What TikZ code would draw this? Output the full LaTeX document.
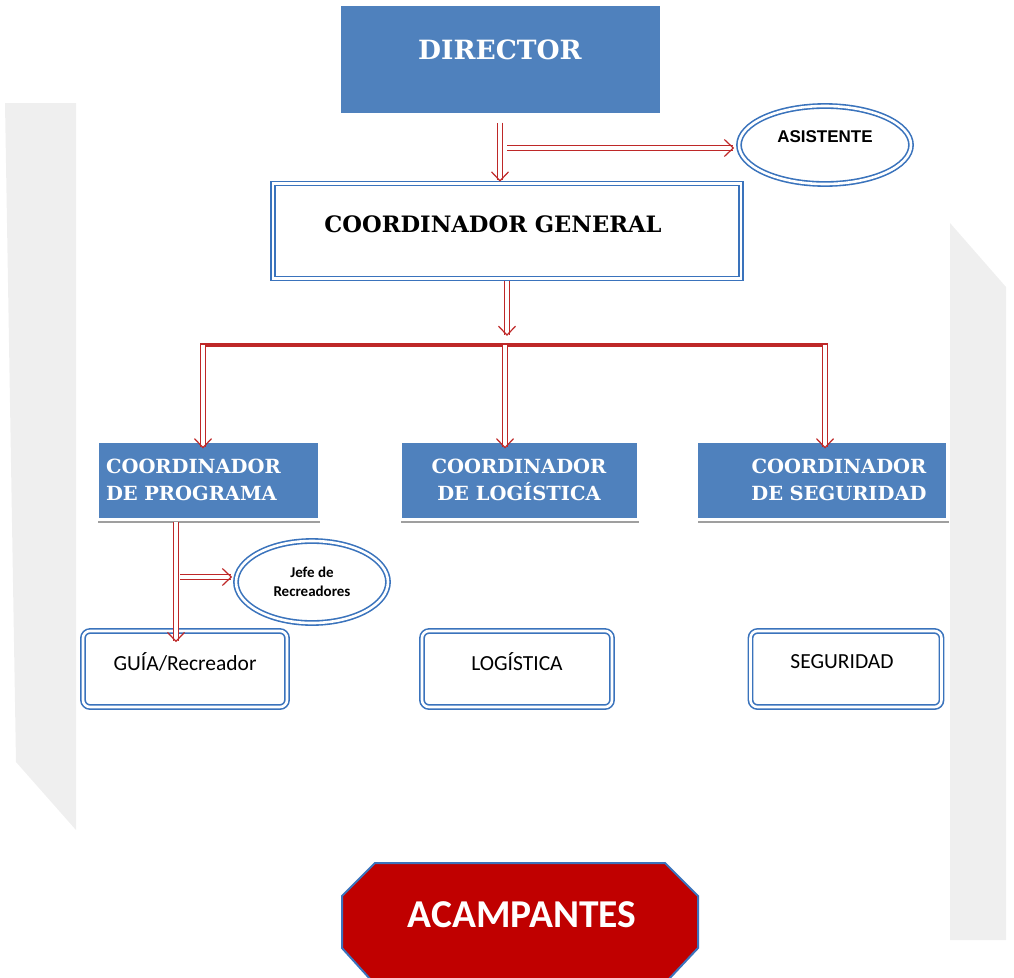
\documentclass[tikz,border=0pt]{standalone}
\usepackage{fontspec}
\setmainfont{DejaVu Serif}
\newfontfamily\sansb{Liberation Sans}
\newfontfamily\calib{Carlito}
\usetikzlibrary{arrows.meta,shapes.geometric,shadows}
\definecolor{bfill}{RGB}{79,129,189}
\definecolor{bline}{RGB}{58,115,188}
\definecolor{arrred}{RGB}{190,40,40}
\definecolor{redfill}{RGB}{192,0,0}
\definecolor{panel}{RGB}{239,239,239}
\tikzset{
  harrow/.style={draw=arrred, line width=1.1pt, double=white, double distance=3.5pt,
     -{Straight Barb[length=9pt, width=17pt, line width=1.2pt]}},
  bar/.style={draw=arrred, line width=3.5pt},
  dblbox/.style={draw=bline, line width=1.6pt, double=white, double distance=2.6pt, fill=white},
  coordbox/.style={fill=bfill, draw=white, line width=3pt, minimum height=78pt,
     drop shadow={shadow xshift=1pt, shadow yshift=-4pt, fill=gray!75, opacity=1},
     text=white, font=\bfseries\fontsize{19.5}{27}\selectfont, inner sep=0pt},
  lowbox/.style={dblbox, rounded corners=7pt, minimum width=#1, minimum height=76pt,
     font=\calib\fontsize{21.5}{24}\selectfont, text depth=14pt, inner sep=0pt},
  oval/.style={dblbox, ellipse, inner sep=0pt},
}
\begin{document}
\begin{tikzpicture}[x=1pt,y=-1pt]
\useasboundingbox (0,0) rectangle (1014,977);
% background panels
\fill[panel] (5,103) -- (76,103) -- (76,830) -- (16,762) -- cycle;
\fill[panel] (950,223) -- (1006,287) -- (1006,940) -- (950,940) -- cycle;

% nodes
\node[fill=bfill, minimum width=319pt, minimum height=107pt, inner sep=0pt,
      text=white, font=\bfseries\fontsize{26.5}{30}\selectfont, text depth=18pt]
      (dir) at (500,59) {DIRECTOR};
\node[oval, minimum width=172pt, minimum height=78pt,
      font=\sansb\bfseries\fontsize{17}{18}\selectfont, text depth=16pt]
      (asis) at (825,145) {ASISTENTE};
\node[dblbox, minimum width=468pt, minimum height=95pt,
      font=\bfseries\fontsize{22.6}{26}\selectfont, text depth=14pt]
      (cg) at (507,231) {\hspace*{-28pt}COORDINADOR GENERAL};

\node[coordbox, minimum width=222pt, align=left, text width=204pt]
      (prog) at (208,480) {COORDINADOR\\DE PROGRAMA};
\node[coordbox, minimum width=238pt, align=center]
      (logi) at (519,480) {COORDINADOR\\DE LOGÍSTICA};
\node[coordbox, minimum width=251pt, align=center, text width=240pt]
      (segu) at (822,480) {\hspace*{34pt}\raisebox{-5pt}{\parbox{180pt}{\centering COORDINADOR\\DE SEGURIDAD}}};

\node[oval, minimum width=152pt, minimum height=82pt, align=center,
      font=\calib\bfseries\fontsize{15}{19}\selectfont]
      (jefe) at (312,582) {Jefe de\\Recreadores};

\node[lowbox=204pt] (guia) at (185,669) {GUÍA/Recreador};
\node[lowbox=190pt] (logb) at (517,669) {LOGÍSTICA};
\node[lowbox=191pt] (segb) at (846,669) {\hspace*{-8pt}SEGURIDAD};

% acampantes
\fill[redfill, draw=bline, line width=2pt]
  (375,863) -- (665,863) -- (698,896) -- (698,948) -- (668,980) -- (371,980) -- (342,948) -- (342,896) -- cycle;
\node[text=white, font=\calib\bfseries\fontsize{39.5}{42}\selectfont] (acamp) at (522,915) {ACAMPANTES};

% connectors
\coordinate (da) at (507,148);
\coordinate (bm) at (507,336);
\coordinate (bl) at (200,345);
\coordinate (br) at (828,345);
\coordinate (d1) at (203,345);
\coordinate (d2) at (505,345);
\coordinate (d3) at (825,345);
\coordinate (pg) at (176,520);
\coordinate (pj) at (180,577);

\draw[harrow, shorten <=10pt, shorten >=1pt] (dir.south) -- (dir.south |- cg.north);
\draw[harrow, shorten >=4pt] (da) -- (da -| asis.west);
\draw[harrow, shorten <=2pt] (cg.south) -- (bm);
\draw[bar] (bl) -- (br);
\draw[harrow] (d1) -- ([yshift=-9pt]d1 |- prog.north);
\draw[harrow] (d2) -- ([yshift=-9pt]d2 |- logi.north);
\draw[harrow] (d3) -- ([yshift=-9pt]d3 |- segu.north);
\draw[harrow, shorten <=2pt] (pg) -- ([yshift=-12pt]pg |- guia.north);
\draw[harrow, shorten >=3pt] (pj) -- (pj -| jefe.west);
\end{tikzpicture}
\end{document}
